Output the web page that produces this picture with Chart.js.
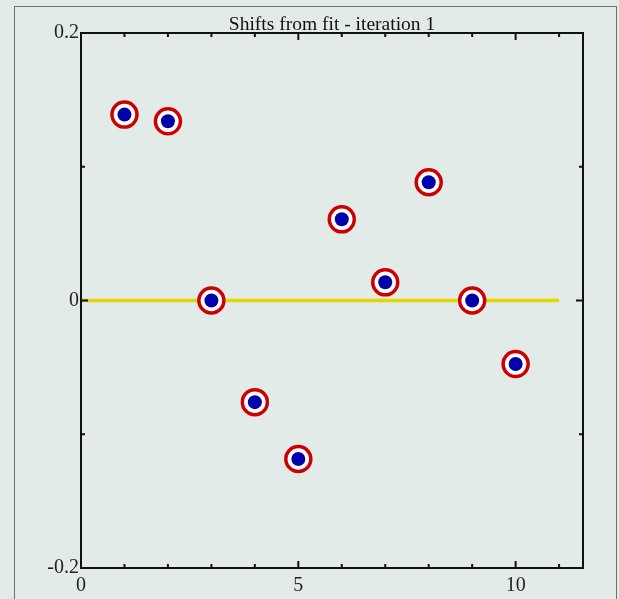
<!DOCTYPE html>
<html>
<head>
<meta charset="utf-8">
<script src="https://cdn.jsdelivr.net/npm/chart.js@4"></script>
<style>
  body { margin: 0; background: #e3ebe8; }
  #wrap { width: 619px; height: 599px; }
</style>
</head>
<body>
<div id="wrap"><canvas id="shiftschart" width="619" height="599"></canvas></div>
<script>
// data
const iterations = [1, 2, 3, 4, 5, 6, 7, 8, 9, 10];
const shifts = [0.139, 0.134, 0, -0.076, -0.1185, 0.0607, 0.0136, 0.0884, 0, -0.0475];
const zeroLineX = [0, 11];
const xTickLabels = [0, 5, 10];
const yTickLabels = [0.2, 0, -0.2];

const serif = '"Liberation Serif", "DejaVu Serif", serif';

const points = iterations.map((x, i) => ({ x: x, y: shifts[i] }));

// frame, inward tick marks and the outer panel border
const framePlugin = {
  id: "frame",
  beforeDraw(chart) {
    const ctx = chart.ctx;
    ctx.save();
    ctx.fillStyle = "#e3ebe8";
    ctx.fillRect(0, 0, chart.width, chart.height);
    ctx.strokeStyle = "#707070";
    ctx.lineWidth = 1;
    ctx.strokeRect(14.5, 6.5, 602, 620);
    ctx.restore();
  },
  afterDatasetsDraw(chart) {
    const ctx = chart.ctx;
    const a = chart.chartArea;
    const xs = chart.scales.x;
    const ys = chart.scales.y;
    ctx.save();
    ctx.strokeStyle = "#111";
    ctx.lineWidth = 2;
    for (let v = 1; v <= 11; v++) {
      const px = xs.getPixelForValue(v);
      const len = v % 5 === 0 ? 7 : 4;
      ctx.beginPath();
      ctx.moveTo(px, a.bottom);
      ctx.lineTo(px, a.bottom - len);
      ctx.moveTo(px, a.top);
      ctx.lineTo(px, a.top + len);
      ctx.stroke();
    }
    [-0.1, 0, 0.1].forEach((v) => {
      const py = ys.getPixelForValue(v);
      const len = v === 0 ? 7 : 4;
      ctx.beginPath();
      ctx.moveTo(a.left, py);
      ctx.lineTo(a.left + len, py);
      ctx.moveTo(a.right, py);
      ctx.lineTo(a.right - len, py);
      ctx.stroke();
    });
    ctx.strokeRect(a.left, a.top, a.right - a.left, a.bottom - a.top);
    ctx.restore();
  },
};

new Chart(document.getElementById("shiftschart"), {
  type: "scatter",
  data: {
    datasets: [
      {
        type: "line",
        label: "zero",
        data: zeroLineX.map((x) => ({ x: x, y: 0 })),
        borderColor: "#e0d800",
        borderWidth: 3.5,
        pointRadius: 0,
        order: 3,
      },
      {
        label: "rings",
        data: points,
        pointRadius: 12.5,
        borderWidth: 3.5,
        borderColor: "#cc0000",
        backgroundColor: "#ffffff",
        order: 2,
      },
      {
        label: "shifts",
        data: points,
        pointRadius: 7,
        borderWidth: 0,
        backgroundColor: "#0000aa",
        order: 1,
      },
    ],
  },
  options: {
    responsive: false,
    animation: false,
    events: [],
    layout: {
      padding: { left: 0, right: 36, top: 17.4, bottom: 0 },
    },
    scales: {
      x: {
        type: "linear",
        min: 0,
        max: 11.55,
        afterBuildTicks: (s) => {
          s.ticks = xTickLabels.map((v) => ({ value: v }));
        },
        afterFit: (s) => {
          s.height = 31;
        },
        grid: { display: false, drawTicks: false },
        border: { display: false },
        ticks: {
          padding: 6,
          color: "#222",
          font: { family: serif, size: 20 },
          maxRotation: 0,
          callback: (v) => String(v),
        },
      },
      y: {
        type: "linear",
        min: -0.2,
        max: 0.2,
        afterBuildTicks: (s) => {
          s.ticks = yTickLabels.map((v) => ({ value: v }));
        },
        afterFit: (s) => {
          s.width = 81;
        },
        grid: { display: false, drawTicks: false },
        border: { display: false },
        ticks: {
          padding: 2,
          color: "#222",
          font: { family: serif, size: 20 },
          callback: (v) => String(v),
        },
      },
    },
    plugins: {
      legend: { display: false },
      tooltip: { enabled: false },
      title: {
        display: true,
        fullSize: false,
        text: "Shifts from fit - iteration 1",
        color: "#111",
        font: { family: serif, size: 19.5, weight: "normal", lineHeight: 0.8 },
        padding: { top: 0, bottom: 0 },
      },
    },
  },
  plugins: [framePlugin],
});
</script>
</body>
</html>
